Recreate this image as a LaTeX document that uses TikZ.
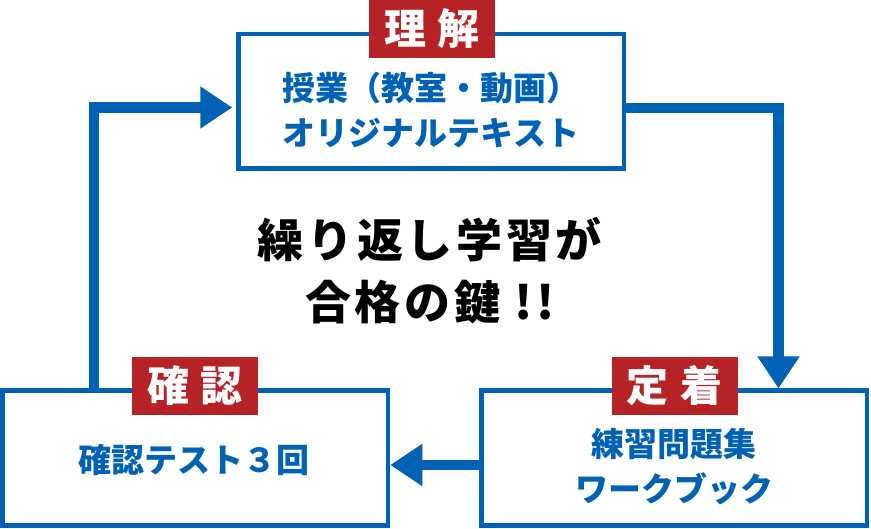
\documentclass[tikz,border=0pt]{standalone}
\usepackage{fontspec}
\newfontfamily\jp{Noto Sans CJK JP}
\newfontfamily\jpsp{Noto Sans CJK JP}[LetterSpace=8]
\usetikzlibrary{arrows.meta}
\definecolor{mblue}{RGB}{0,98,180}
\definecolor{mred}{RGB}{181,35,38}
\tikzset{
 box/.style={draw=mblue, line width=4.5pt, minimum width=385.5pt, minimum height=134.5pt, inner sep=0pt, fill=white},
 tag/.style={fill=mred, minimum width=126pt, minimum height=58pt, inner sep=0pt, text=white, font=\jp\bfseries\fontsize{42}{42}\selectfont},
 boxtext/.style={text=mblue, align=center, font=\jp\bfseries\fontsize{33}{45}\selectfont, inner sep=0pt},
 centertext/.style={text=black, align=center, font=\jpsp\bfseries\fontsize{46}{62}\selectfont, inner sep=0pt},
 arr/.style={draw=mblue, line width=10.5pt, -{Triangle[length=32pt,width=40pt]}},
}
\begin{document}
\begin{tikzpicture}[x=1pt,y=-1pt]
\useasboundingbox[fill=white] (0,0) rectangle (871,529);
\node[box] (T) at (431.25,101.25) {};
\node[box] (L) at (195.25,458) {};
\node[box] (R) at (674,458) {};
\draw[arr, shorten >=4pt] ([xshift=-101.25pt]L.north) |- ([yshift=-6.25pt]T.west);
\draw[arr] ([yshift=-6.75pt]T.east) -| ([xshift=104.5pt]R.north);
\draw[arr] ([yshift=-7pt]R.west) -- ([yshift=-7pt]L.east);
\node[tag] (TT) at (432,29) {理\hspace{12pt}解};
\node[tag] (LT) at (195,386) {確\hspace{12pt}認};
\node[tag] (RT) at (674.7,386) {定\hspace{12pt}着};
\node[boxtext] (Ttx) at (431,110.5) {授業（教室・動画）\\オリジナルテキスト};
\node[boxtext] (Ltx) at (194,460) {確認テスト３回};
\node[boxtext] (Rtx) at (674,466.5) {練習問題集\\ワークブック};
\node[centertext] (C) at (430,271) {繰り返し学習が\\合格の鍵 !!};
\end{tikzpicture}
\end{document}
